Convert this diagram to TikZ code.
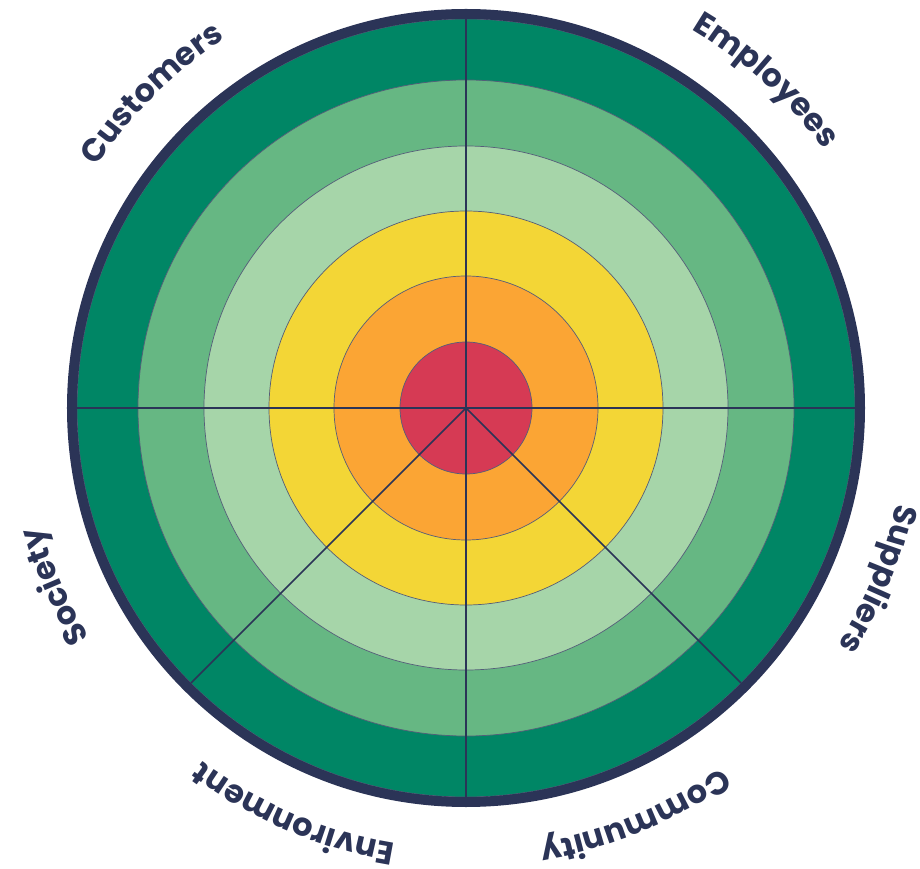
\documentclass[tikz,border=0pt]{standalone}
\usepackage{fontspec}
\usetikzlibrary{decorations.text}

\newfontfamily\lblfont{Poppins}
\newcommand\lblstyle{\lblfont\bfseries\fontsize{32}{34}\selectfont}

\definecolor{navy}{HTML}{2B3457}
\definecolor{ringred}{HTML}{D63A54}
\definecolor{ringorange}{HTML}{FBA534}
\definecolor{ringyellow}{HTML}{F3D636}
\definecolor{ringpale}{HTML}{A6D5A9}
\definecolor{ringmid}{HTML}{66B783}
\definecolor{ringdark}{HTML}{008665}

\begin{document}
\begin{tikzpicture}[x=1pt,y=1pt,
    ring/.style={draw=navy!80, line width=0.7pt},
    spoke/.style={draw=navy, line width=1.6pt}]
  \useasboundingbox (-466,-461) rectangle (454,408);
  \coordinate (c) at (0,0);

  % rings, outside in
  \foreach \r/\col in {389/ringdark, 328/ringmid, 262/ringpale, 197/ringyellow, 132/ringorange, 66/ringred}
    \fill[ring, fill=\col] (c) circle[radius=\r];

  % sector lines
  \draw[spoke] (c) -- (90:389);
  \draw[spoke] (180:389) -- (0:389);
  \draw[spoke] (c) -- (-45:389);
  \draw[spoke] (c) -- (-90:389);
  \draw[spoke] (c) -- (-135:389);

  % outer rim
  \draw[navy, line width=10pt] (c) circle[radius=394];

  % labels along the rim
  \foreach \ang/\lbl in {135/Customers, 47.5/Employees, -22.5/Suppliers, -67.5/Community, -113/Environment, 203.5/Society}
    \path[decorate, decoration={text along path, text align=center, text color=navy,
        text/.expanded={|\noexpand\lblstyle|\lbl}}]
      (\ang+35:441) arc[start angle=\ang+35, end angle=\ang-35, radius=441];
\end{tikzpicture}
\end{document}
